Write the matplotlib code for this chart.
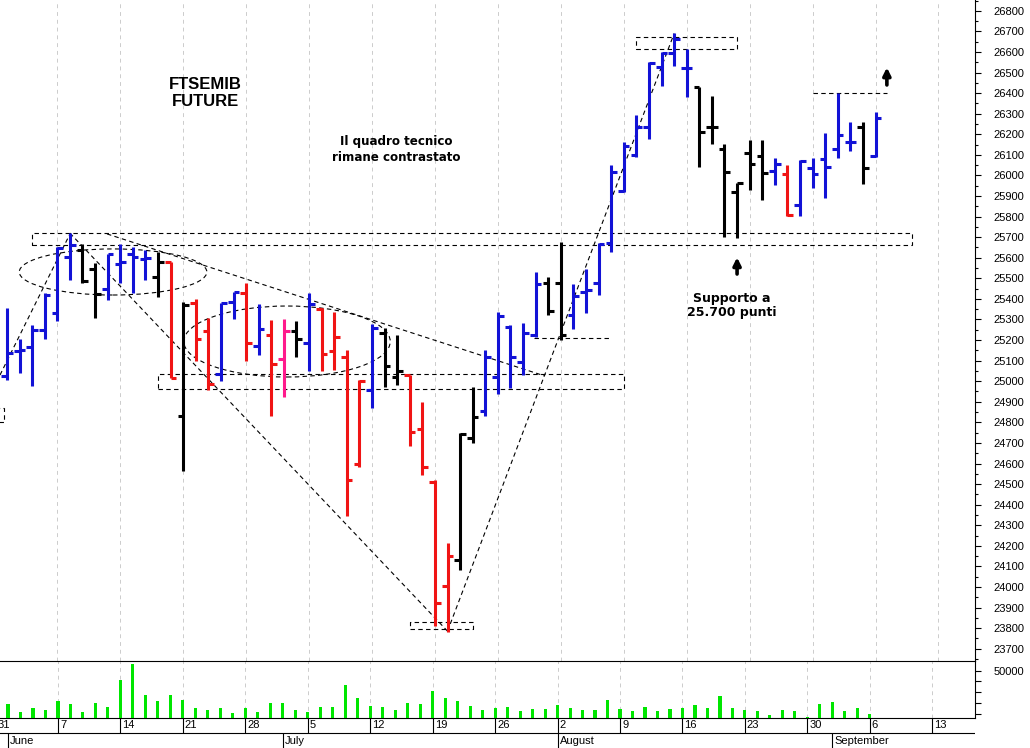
import numpy as np
import pandas as pd
import matplotlib
matplotlib.use('Agg')
import matplotlib.pyplot as plt
from matplotlib.patches import Rectangle, Ellipse

plt.rcParams['font.family'] = ['Liberation Sans', 'DejaVu Sans']

# FTSEMIB future, daily bars 1 Jun - 6 Sep 2021
dates = pd.bdate_range('2021-06-01', '2021-09-06')

opens = [25026, 25145, 25168, 25249, 25330, 25603, 25638, 25544, 25449, 25570,
         25619, 25595, 25505, 25578, 24833, 25382, 25246, 25034, 25384, 25428,
         25171, 25225, 25108, 25244, 25185, 25351, 25149, 25117, 24598, 24958,
         25233, 25022, 25030, 24766, 24512, 24005, 24131, 24723, 24855, 25019,
         25262, 25092, 25225, 25476, 25476, 25322, 25435, 25476, 25671, 25926,
         26100, 26235, 26526, 26594, 26521, 26432, 26236, 26130, 25922, 26108,
         26095, 26022, 26008, 25857, 26035, 26079, 26128, 26165, 26235, 26097]
highs = [25355, 25205, 25274, 25431, 25651, 25722, 25667, 25573, 25617, 25667,
         25654, 25638, 25630, 25578, 25387, 25398, 25306, 25379, 25435, 25476,
         25374, 25298, 25301, 25293, 25428, 25355, 25338, 25152, 25006, 25278,
         25257, 25225, 25030, 24901, 24520, 24212, 24747, 24971, 25150, 25338,
         25274, 25285, 25533, 25505, 25678, 25473, 25544, 25671, 26051, 26165,
         26294, 26554, 26602, 26692, 26614, 26432, 26384, 26153, 25964, 26173,
         26173, 26087, 26051, 26076, 26087, 26208, 26403, 26262, 26262, 26310]
lows = [25006, 25039, 24978, 25205, 25293, 25492, 25476, 25306, 25395, 25479,
        25431, 25492, 25408, 25014, 24565, 25098, 24958, 25003, 25301, 25098,
        25128, 24833, 24922, 25119, 25050, 25050, 25055, 24345, 24585, 24869,
        24971, 24982, 24685, 24544, 23810, 23780, 24083, 24701, 24830, 24938,
        24966, 25030, 25217, 25322, 25201, 25254, 25330, 25419, 25630, 25922,
        26092, 26178, 26435, 26533, 26380, 26043, 26153, 25701, 25697, 25930,
        25881, 25954, 25805, 25805, 25938, 25892, 26087, 26119, 25959, 26092]
closes = [25136, 25150, 25249, 25419, 25646, 25662, 25489, 25424, 25617, 25580,
          25604, 25600, 25578, 25014, 25371, 25204, 24987, 25379, 25435, 25187,
          25253, 25082, 25246, 25204, 25376, 25131, 25214, 24520, 25003, 25257,
          25074, 25051, 24755, 24585, 23921, 24150, 24744, 24828, 25117, 25317,
          25119, 25233, 25473, 25343, 25225, 25416, 25444, 25667, 26019, 26144,
          26235, 26549, 26597, 26662, 26521, 26213, 26236, 26016, 25964, 26056,
          26011, 26056, 25808, 26071, 26006, 26040, 26197, 26165, 26035, 26278]
volumes = [19400, 11500, 15600, 13100, 21500, 19400, 11500, 20300, 16600, 41000,
           56300, 26900, 21500, 26900, 22500, 15600, 13800, 15600, 10600, 15300,
           11500, 20300, 20300, 13800, 11500, 16200, 16200, 36900, 24100, 17100,
           16200, 13800, 20300, 19000, 30900, 24100, 21300, 17100, 13800, 15300,
           16200, 12400, 14700, 14700, 18100, 15600, 13800, 13100, 22500, 14000,
           12400, 16200, 12400, 14000, 15300, 17800, 15600, 26000, 15600, 13100,
           12400, 9100, 13800, 12400, 6500, 18700, 20600, 12400, 15600, 9600]
# b = blue, k = black, r = red, p = pink (indicator colouring)
bar_codes = ("bbbbbbkkbb" "bbkrkrrbbr" "brpkbrrrrb" "kkrrrrkkbb"
             "bbbkkbbbbb" "bbbbbkkkkk" "kbrbbbbbkb")
palette = {'b': '#1212d6', 'k': '#000000', 'r': '#f01414', 'p': '#ff1a8c'}

x = np.arange(len(dates))
cols = [palette[c] for c in bar_codes]

mondays = pd.date_range('2021-05-31', '2021-09-13', freq='W-MON')
week_pos = [int(np.busday_count('2021-06-01', d.date())) for d in mondays]
month_pos = [i for i in range(len(dates)) if i == 0 or dates[i].month != dates[i - 1].month]

W, H = 1030, 748
fig = plt.figure(figsize=(W / 100, H / 100), dpi=100)
ax = fig.add_axes([0, 87 / H, 975 / W, 661 / H])
axv = fig.add_axes([0, 30 / H, 975 / W, 57 / H])
axd = fig.add_axes([0, 0, 975 / W, 30 / H])

grid_kw = dict(colors='#cccccc', lw=0.7, linestyles=(0, (4, 4)), zorder=0)

# price panel
ax.set_xlim(-0.55, 76.9)
ax.set_ylim(23640, 26853)
ax.vlines(week_pos, 23640, 26853, **grid_kw)
ax.vlines(x, lows, highs, colors=cols, lw=2.2, zorder=3)
ax.hlines(opens, x - 0.45, x, colors=cols, lw=2.2, zorder=3)
ax.hlines(closes, x, x + 0.45, colors=cols, lw=2.2, zorder=3)

dash = dict(color='black', lw=0.8, ls=(0, (4, 3)), fill=False, zorder=2)
for x0, x1, y0, y1 in [(2, 71.9, 25660, 25720), (12, 49, 24961, 25034),
                       (50, 58, 26614, 26672), (32, 37, 23794, 23831),
                       (-3, -0.25, 24802, 24870)]:
    ax.add_patch(Rectangle((x0, y0), x1 - x0, y1 - y0, **dash))
ax.add_patch(Ellipse((8.43, 25531), 14.9, 224, **dash))
ax.add_patch(Ellipse((22.25, 25193), 16.4, 345, **dash))
line_kw = dict(color='black', lw=0.8, ls=(0, (4, 3)), zorder=2)
for (x0, y0), (x1, y1) in [((-0.55, 25030), (5, 25715)),
                           ((5, 25720), (35, 23785)),
                           ((7.95, 25716), (42.7, 25026)),
                           ((35, 23785), (53, 26690)),
                           ((41.9, 25212), (48, 25212)),
                           ((64, 26400), (69.9, 26400))]:
    ax.plot([x0, x1], [y0, y1], **line_kw)

ax.text(15.75, 26440, 'FTSEMIB', ha='center', va='center', fontsize=12, fontweight='bold')
ax.text(15.8, 26362, 'FUTURE', ha='center', va='center', fontsize=12, fontweight='bold')
ax.text(30.9, 26163, 'Il quadro tecnico', ha='center', va='center', fontsize=8.6,
        fontweight='bold', family='DejaVu Sans')
ax.text(30.9, 26085, 'rimane contrastato', ha='center', va='center', fontsize=8.6,
        fontweight='bold', family='DejaVu Sans')
ax.text(57.6, 25403, 'Supporto a', ha='center', va='center', fontsize=9,
        fontweight='bold', family='DejaVu Sans')
ax.text(57.6, 25332, '25.700 punti', ha='center', va='center', fontsize=9,
        fontweight='bold', family='DejaVu Sans')
arrow = dict(arrowstyle='-|>', color='black', lw=2.6, mutation_scale=11, shrinkA=0, shrinkB=0)
ax.annotate('', xy=(58, 25602), xytext=(58, 25521), arrowprops=arrow)
ax.annotate('', xy=(69.9, 26525), xytext=(69.9, 26440), arrowprops=arrow)

ax.yaxis.tick_right()
ax.set_yticks(np.arange(23700, 26801, 100))
ax.set_yticks(np.arange(23650, 26851, 100), minor=True)
ax.tick_params(axis='y', which='major', direction='out', length=4.3, width=0.8,
               labelsize=8, pad=9)
ax.tick_params(axis='y', which='minor', direction='out', length=2.2, width=0.8)
ax.set_xticks([])
for s in ['left', 'top', 'bottom']:
    ax.spines[s].set_visible(False)
ax.spines['right'].set_linewidth(0.8)

# volume panel
axv.set_xlim(-0.64, 77.42)
axv.set_ylim(5870, 59100)
axv.vlines(week_pos, 5870, 59100, **grid_kw)
axv.bar(x, volumes, width=0.25, bottom=0, color='#00e600', zorder=3)
axv.yaxis.tick_right()
axv.set_yticks(np.arange(10000, 50001, 10000))
axv.set_yticklabels(['', '', '', '', '50000'])
axv.tick_params(axis='y', direction='out', length=4.3, width=0.8, labelsize=8, pad=9)
axv.set_xticks([])
axv.spines['left'].set_visible(False)
for s in ['top', 'bottom', 'right']:
    axv.spines[s].set_linewidth(0.8)

# date rows
axd.set_xlim(-0.64, 77.42)
axd.set_ylim(0, 2)
axd.axis('off')
axd.axhline(1, color='black', lw=0.8)
axd.vlines(week_pos, 1, 2, colors='black', lw=0.8)
for p, d in zip(week_pos, mondays):
    axd.text(p + 0.16, 1.5, str(d.day), ha='left', va='center', fontsize=8, clip_on=True)
axd.vlines(month_pos, 0, 1, colors='black', lw=0.8)
for p in month_pos:
    axd.text(p + 0.18, 0.48, dates[p].strftime('%B'), ha='left', va='center', fontsize=8)

fig.savefig('out.png', dpi=100)
